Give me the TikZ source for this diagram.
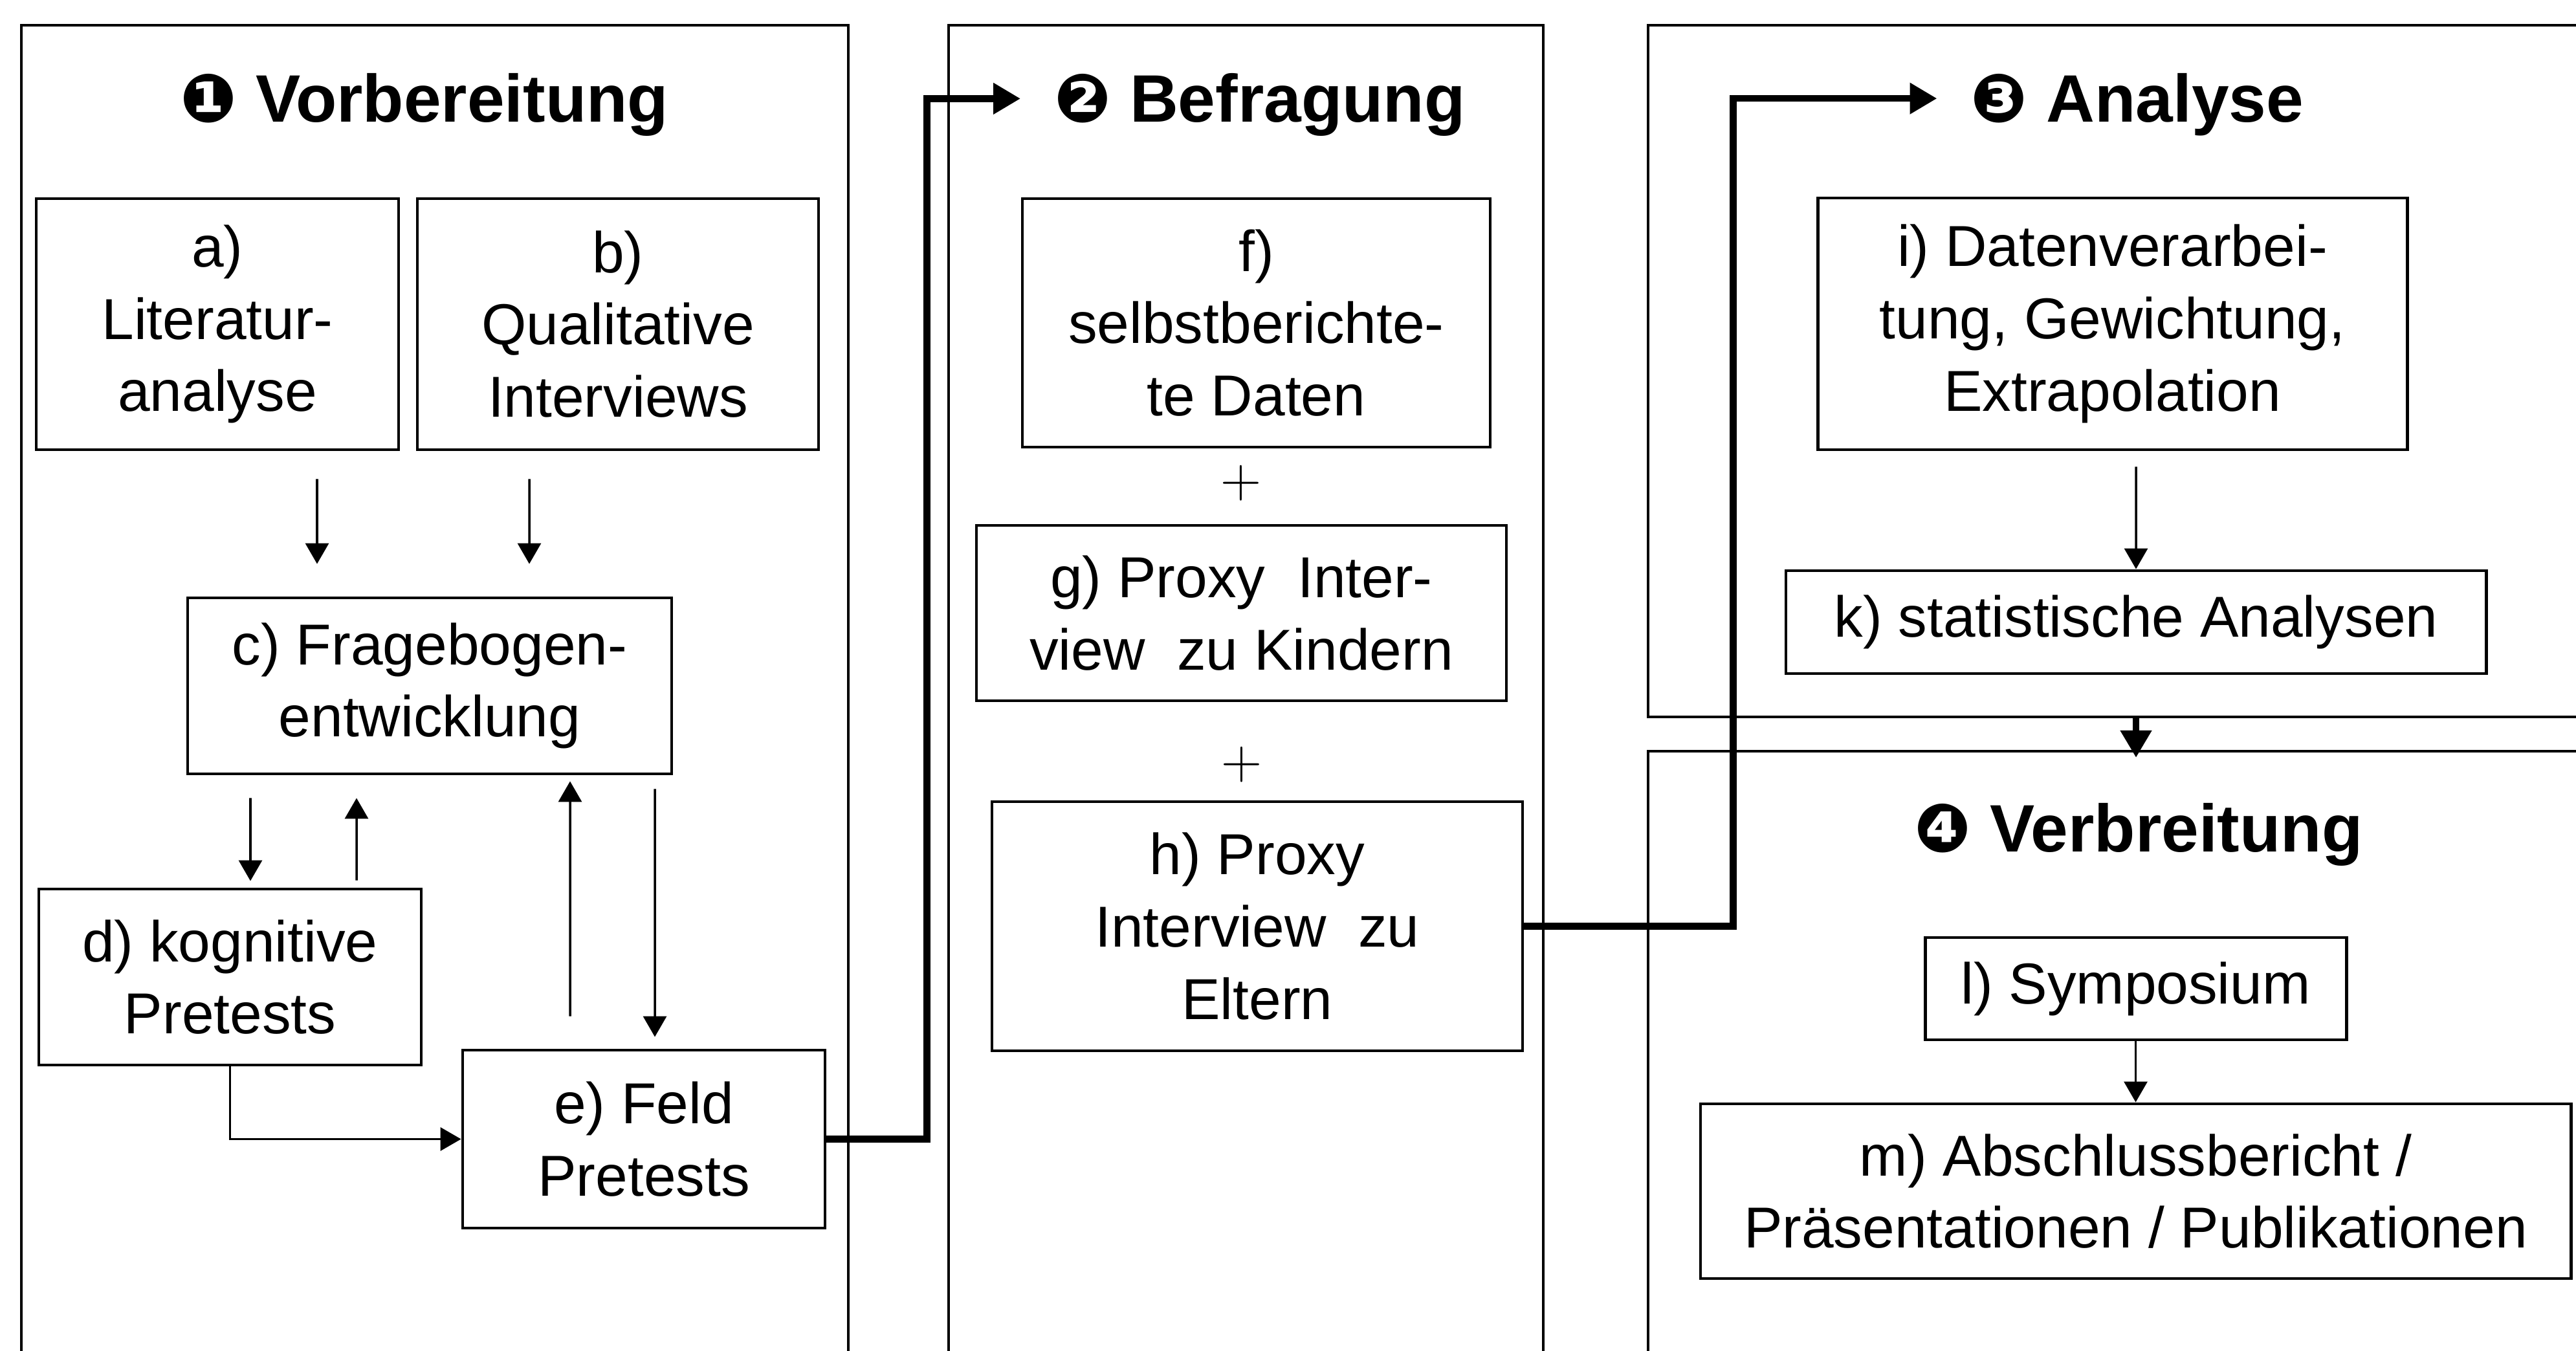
\documentclass[tikz,border=0pt]{standalone}
\usepackage{fontspec}
\setmainfont{Liberation Sans}
\newfontfamily\dingfont{DejaVu Sans}
\usetikzlibrary{arrows.meta}

\tikzset{
  box/.style={draw, line width=1.4pt, align=center, inner sep=0pt, font=\fontsize{25.4}{31.8}\selectfont},
  panel/.style={draw, line width=1.1pt, anchor=north west, inner sep=0pt},
  titel/.style={anchor=base, font=\fontsize{29.5}{35}\selectfont\bfseries},
  arr/.style={line width=1pt, -{Triangle[length=3.2mm,width=3.6mm]}},
  bigarr/.style={line width=3pt, -{Triangle[length=4.2mm,width=4.6mm]}},
}

\begin{document}
\begin{tikzpicture}
\useasboundingbox (0,0) rectangle (39.81,20.87);
\clip (0,0) rectangle (39.81,20.87);

% Phasen
\node[panel, minimum width=12.78cm, minimum height=22cm] (p1) at (0.31,20.50) {};
\node[panel, minimum width=9.19cm, minimum height=22cm] (p2) at (14.64,20.50) {};
\node[panel, minimum width=16cm, minimum height=10.69cm] (p3) at (25.45,20.50) {};
\node[panel, minimum width=16cm, minimum height=11cm] (p4) at (25.45,9.28) {};

\node[titel] (t1) at (6.56,18.98) {{\dingfont ❶} Vorbereitung};
\node[titel] (t2) at (19.47,18.98) {{\dingfont ❷} Befragung};
\node[titel] (t3) at (33.03,18.98) {{\dingfont ❸} Analyse};
\node[titel] (t4) at (33.05,7.70) {{\dingfont ❹} Verbreitung};

% 1 Vorbereitung
\node[box, minimum width=5.60cm, minimum height=3.88cm] (a) at (3.36,15.86) {a)\\Literatur-\\analyse};
\node[box, minimum width=6.20cm, minimum height=3.88cm] (b) at (9.55,15.86) {b)\\Qualitative\\Interviews};
\node[box, minimum width=7.48cm, minimum height=2.72cm] (c) at (6.64,10.27) {c) Fragebogen-\\entwicklung};
\node[box, minimum width=5.91cm, minimum height=2.72cm] (d) at (3.555,5.77) {d) kognitive\\Pretests};
\node[box, minimum width=5.60cm, minimum height=2.75cm] (e) at (9.95,3.265) {e) Feld\\Pretests};

% 2 Befragung
\node[box, minimum width=7.23cm, minimum height=3.84cm] (f) at (19.415,15.88) {f)\\selbstberichte-\\te Daten};
\node[font=\fontsize{25}{30}\selectfont] (plus1) at (19.18,13.40) {$+$};
\node[box, minimum width=8.19cm, minimum height=2.71cm] (g) at (19.185,11.395) {g) Proxy\ \ Inter-\\view\ \ zu Kindern};
\node[font=\fontsize{25}{30}\selectfont] (plus2) at (19.19,9.05) {$+$};
\node[box, minimum width=8.20cm, minimum height=3.85cm] (h) at (19.43,6.555) {h) Proxy\\Interview\ \ zu\\Eltern};

% 3 Analyse, 4 Verbreitung
\node[box, minimum width=9.11cm, minimum height=3.89cm] (i) at (32.645,15.865) {i) Datenverarbei-\\tung, Gewichtung,\\Extrapolation};
\node[box, minimum width=10.82cm, minimum height=1.59cm] (k) at (33.01,11.255) {k) statistische Analysen};
\node[box, minimum width=6.51cm, minimum height=1.58cm] (l) at (33.005,5.59) {l) Symposium};
\node[box, minimum width=13.45cm, minimum height=2.70cm] (m) at (33.005,2.46) {m) Abschlussbericht /\\Präsentationen\ /\ Publikationen};

% Pfeile
\draw[arr, shorten <=4.3mm, shorten >=5.0mm] ([xshift=15.4mm]a.south) -- ([xshift=-17.4mm]c.north);
\draw[arr, shorten <=4.3mm, shorten >=5.0mm] ([xshift=-13.7mm]b.south) -- ([xshift=15.4mm]c.north);
\draw[arr, shorten <=3.5mm, shorten >=1mm] ([xshift=-27.7mm]c.south) -- ([xshift=3.15mm]d.north);
\draw[arr, shorten <=1.1mm, shorten >=3.5mm] ([xshift=19.55mm]d.north) -- ([xshift=-11.3mm]c.south);
\draw[arr, shorten <=5mm, shorten >=0.9mm] ([xshift=-11.4mm]e.north) -- ([xshift=21.7mm]c.south);
\draw[arr, shorten <=2.1mm, shorten >=1.8mm] ([xshift=34.8mm]c.south) -- ([xshift=1.7mm]e.north);
\draw[arr] (d.south) |- (e.west);
\draw[arr, shorten <=2.4mm] ([xshift=3.65mm]i.south) -- (k.north);
\draw[arr] (l.south) -- (m.north);

\draw[bigarr, shorten >=4mm] (e.east) -- ++(1.55,0) |- ([yshift=1mm]t2.west);
\draw[bigarr, shorten >=4mm] (h.east) -- ++(3.23,0) |- ([yshift=1mm]t3.west);
\draw[bigarr, shorten >=-1.2mm] (p3.south -| k.south) -- (p4.north -| k.south);
\end{tikzpicture}
\end{document}
